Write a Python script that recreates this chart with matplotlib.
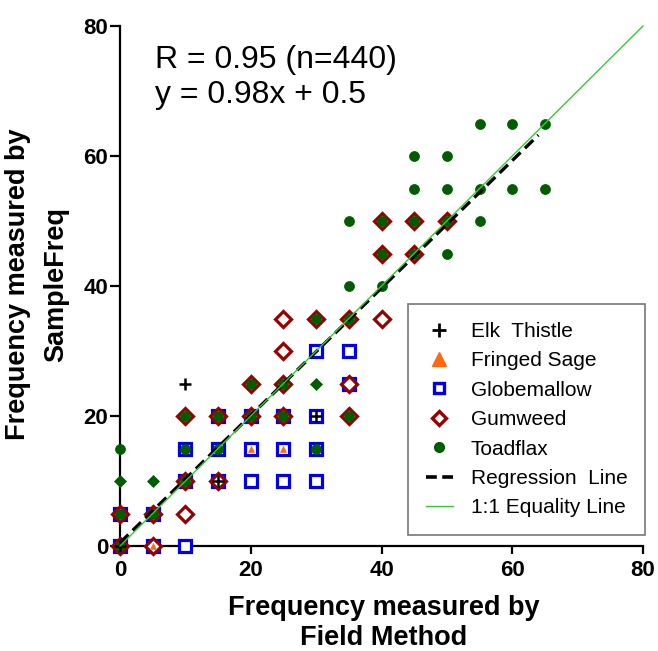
import matplotlib
matplotlib.use("Agg")
import matplotlib.pyplot as plt
from matplotlib.lines import Line2D

plt.rcParams['font.family'] = ['Liberation Sans', 'DejaVu Sans']

# ---- data (x = Field Method, y = SampleFreq) ----
elk_x = [0, 10, 15, 30]
elk_y = [0, 25, 10, 20]

sage_x = [0, 5, 20, 25, 25]
sage_y = [0, 0, 15, 15, 25]

globe_x = [0, 0, 5, 5, 10, 10, 10, 15, 15, 15, 20, 20, 20, 25, 25, 25, 30, 30, 30, 30, 35, 35]
globe_y = [0, 5, 0, 5, 0, 10, 15, 10, 15, 20, 10, 15, 20, 10, 15, 20, 10, 15, 20, 30, 30, 25]

gum_x = [0, 0, 5, 5, 10, 10, 10, 15, 15, 20, 20, 25, 25, 25, 25, 30, 35, 35, 35, 40, 40, 40, 45, 45, 50]
gum_y = [0, 5, 0, 5, 5, 10, 20, 10, 20, 20, 25, 20, 25, 30, 35, 35, 20, 25, 35, 35, 45, 50, 45, 50, 50]

toad_x = [0, 0, 0, 5, 10, 10, 10, 15, 15, 20, 20, 25, 25, 30, 30, 35, 35, 35, 35,
          40, 40, 40, 45, 45, 45, 45, 50, 50, 50, 50, 55, 55, 55, 60, 60, 65, 65]
toad_y = [0, 5, 15, 5, 10, 15, 20, 15, 20, 20, 25, 20, 25, 15, 35, 20, 35, 40, 50,
          40, 45, 50, 45, 50, 55, 60, 45, 50, 55, 60, 50, 55, 65, 55, 65, 55, 65]

toad_d_x = [0, 5, 30]
toad_d_y = [10, 10, 25]

reg_slope, reg_icpt = 0.98, 0.5
reg_x = [0, 64]
eq_x = [0, 80]

xticks = [0, 20, 40, 60, 80]
yticks = [0, 20, 40, 60, 80]

BLUE = '#0000EE'
RED = '#990000'
GREEN = '#005C00'
ORANGE = '#FF6A10'

fig = plt.figure(figsize=(6.58, 6.51), dpi=100)
ax = fig.add_axes([120/658, 1-546/651, 523/658, 520/651])

ax.plot(globe_x, globe_y, ls='none', marker='s', ms=8.2, mfc='white', mec=BLUE,
        mew=2.3, clip_on=False, zorder=3)
ax.plot(gum_x, gum_y, ls='none', marker='D', ms=8.0, mfc='white', mec=RED,
        mew=2.3, clip_on=False, zorder=4)
ax.plot(sage_x, sage_y, ls='none', marker='^', ms=5, mfc=ORANGE, mec=ORANGE,
        mew=0.5, clip_on=False, zorder=5)
ax.plot(toad_x, toad_y, ls='none', marker='o', ms=7.2, mfc=GREEN, mec=GREEN,
        mew=0.5, clip_on=False, zorder=6)
ax.plot(toad_d_x, toad_d_y, ls='none', marker='D', ms=6.2, mfc=GREEN, mec=GREEN,
        mew=0.5, clip_on=False, zorder=6)
ax.plot(elk_x, elk_y, ls='none', marker='+', ms=9, mec='black', mew=1.8,
        clip_on=False, zorder=7)

ax.plot(reg_x, [reg_slope*v + reg_icpt for v in reg_x], color='black', lw=2.4,
        dashes=(3.5, 1.8), zorder=8, clip_on=False)
ax.plot(eq_x, eq_x, color='#33CC33', lw=1.0, zorder=9, clip_on=False)

ax.set_xlim(0, 80)
ax.set_ylim(0, 80)
ax.set_xticks(xticks)
ax.set_yticks(yticks)
for s in ['top', 'right']:
    ax.spines[s].set_visible(False)
for s in ['left', 'bottom']:
    ax.spines[s].set_linewidth(1.6)
ax.tick_params(direction='out', width=1.6, labelsize=16)
ax.tick_params(axis='x', length=6, pad=4)
ax.tick_params(axis='y', length=7, pad=1.5)
for lab in ax.get_xticklabels() + ax.get_yticklabels():
    lab.set_fontweight('bold')

fig.text(384/658, 1-623/651, 'Frequency measured by\nField Method', fontsize=19.5,
         fontweight='bold', ha='center', va='center', linespacing=1.2)
fig.text(37/658, 1-284/651, 'Frequency measured by\nSampleFreq', fontsize=19.5,
         fontweight='bold', ha='center', va='center', rotation=90, linespacing=1.62)

ax.text(5.3, 68.2, 'R = 0.95 (n=440)\ny = 0.98x + 0.5', fontsize=23,
        va='baseline', ha='left', linespacing=1.22)

handles = [
    Line2D([], [], ls='none', marker='+', ms=10, mec='black', mew=2.0),
    Line2D([], [], ls='none', marker='^', ms=10, mfc=ORANGE, mec=ORANGE),
    Line2D([], [], ls='none', marker='s', ms=7.5, mfc='white', mec=BLUE, mew=2.4),
    Line2D([], [], ls='none', marker='D', ms=7, mfc='white', mec=RED, mew=2.4),
    Line2D([], [], ls='none', marker='o', ms=7, mfc=GREEN, mec=GREEN),
    Line2D([], [], color='black', lw=2.6, dashes=(3.0, 1.5)),
    Line2D([], [], color='#33CC33', lw=1.0),
]
labels = ['Elk  Thistle', 'Fringed Sage', 'Globemallow', 'Gumweed', 'Toadflax',
          'Regression  Line', '1:1 Equality Line']
leg = ax.legend(handles, labels, loc='lower right', bbox_to_anchor=(1.004, 0.021),
                borderaxespad=0, fontsize=15, frameon=True, fancybox=False,
                edgecolor='#555555', handlelength=1.3, handletextpad=0.85,
                labelspacing=0.5, borderpad=0.85)
leg.get_frame().set_linewidth(1.2)
leg.set_zorder(10)

fig.savefig('out.png', dpi=100)
